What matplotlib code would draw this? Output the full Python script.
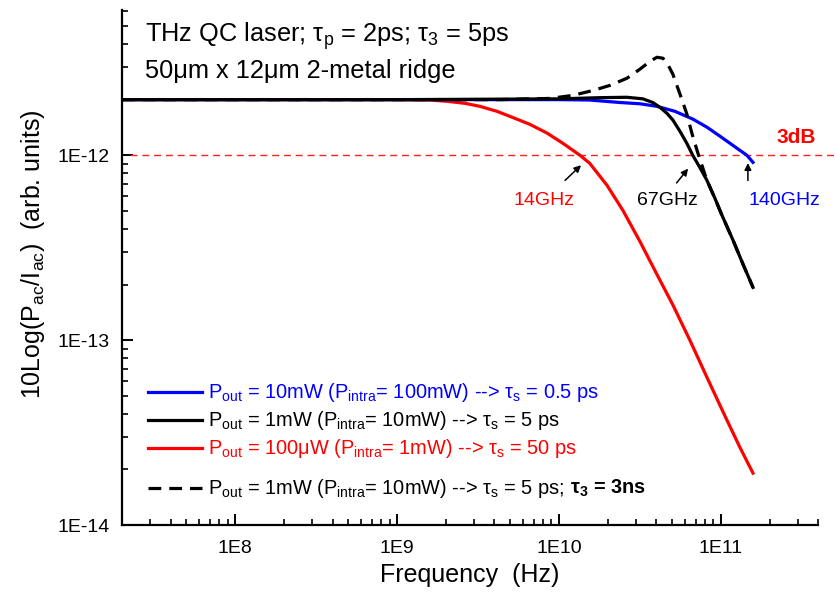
import numpy as np
import matplotlib
matplotlib.use("Agg")
import matplotlib.pyplot as plt
from matplotlib.lines import Line2D

plt.rcParams['font.family'] = ['Liberation Sans', 'DejaVu Sans']
plt.rcParams['mathtext.fontset'] = 'custom'
plt.rcParams['mathtext.rm'] = 'Liberation Sans'
plt.rcParams['mathtext.it'] = 'Liberation Sans:italic'
plt.rcParams['mathtext.bf'] = 'Liberation Sans:bold'

# values
f_red = [2e7, 1e8, 1.04e9, 1.6e9, 2.03e9, 2.63e9, 3.25e9, 4.14e9, 5.2e9, 6.62e9, 8.43e9, 1.06e10,
         1.35e10, 1.55e10, 1.98e10, 2.48e10, 3.16e10, 4.03e10, 5.06e10, 6.44e10, 8.2e10, 1.09e11,
         1.31e11, 1.58e11]
p_red = [2.0e-12, 2.0e-12, 2.0e-12, 1.99e-12, 1.96e-12, 1.91e-12, 1.84e-12, 1.73e-12, 1.60e-12, 1.47e-12,
         1.32e-12, 1.16e-12, 1.0e-12, 9.05e-13, 6.89e-13, 5.05e-13, 3.43e-13, 2.27e-13, 1.55e-13, 1.0e-13,
         6.31e-14, 3.7e-14, 2.64e-14, 1.91e-14]

f_blue = [2e7, 1e9, 1.01e10, 1.55e10, 2.38e10, 3.16e10, 4.03e10, 5.2e10, 6.71e10, 8.2e10,
          9.86e10, 1.19e11, 1.45e11, 1.58e11]
p_blue = [2.0e-12, 2.0e-12, 2.0e-12, 1.99e-12, 1.93e-12, 1.90e-12, 1.84e-12, 1.73e-12, 1.57e-12, 1.42e-12,
          1.27e-12, 1.13e-12, 1.0e-12, 9.16e-13]

f_black = [2e7, 1e9, 1.01e10, 1.79e10, 2.63e10, 3.3e10, 3.8e10, 4.2e10, 4.64e10, 5.06e10,
           5.59e10, 6.17e10, 6.71e10, 7.41e10, 8.2e10, 9.19e10, 1.01e11, 1.19e11, 1.37e11, 1.58e11]
p_black = [2.0e-12, 2.0e-12, 2.02e-12, 2.05e-12, 2.06e-12, 2.02e-12, 1.93e-12, 1.82e-12, 1.69e-12, 1.55e-12,
           1.35e-12, 1.16e-12, 1.0e-12, 8.61e-13, 7.33e-13, 5.86e-13, 4.8e-13, 3.47e-13, 2.58e-13, 1.93e-13]

f_dash = [2e7, 1e9, 4.33e9, 6.62e9, 8.8e9, 1.22e10, 1.62e10, 2.07e10, 2.63e10, 3.16e10,
          3.65e10, 4.03e10, 4.39e10, 4.71e10, 5.06e10, 5.35e10, 5.74e10, 6.17e10, 6.62e10, 7.21e10,
          8.2e10, 9.19e10, 1.01e11, 1.19e11, 1.37e11, 1.58e11]
p_dash = [2.0e-12, 2.0e-12, 2.0e-12, 2.02e-12, 2.03e-12, 2.11e-12, 2.24e-12, 2.39e-12, 2.61e-12, 2.92e-12,
          3.22e-12, 3.39e-12, 3.35e-12, 3.1e-12, 2.74e-12, 2.39e-12, 2.01e-12, 1.67e-12, 1.32e-12, 1.03e-12,
          7.33e-13, 5.86e-13, 4.8e-13, 3.47e-13, 2.58e-13, 1.93e-13]

level_3db = 1e-12
xticks = [1e8, 1e9, 1e10, 1e11]
xtick_labels = ['1E8', '1E9', '1E10', '1E11']
yticks = [1e-14, 1e-13, 1e-12]
ytick_labels = ['1E-14', '1E-13', '1E-12']

fig = plt.figure(figsize=(8.35, 5.94), dpi=100)
ax = fig.add_axes([0.146, 0.116, 0.834, 0.867])

ax.axhline(level_3db, xmin=0.012, xmax=1.03, color='#ff2020', lw=1.0, ls=(0, (5, 3.5)), clip_on=False)
ax.plot(f_red, p_red, color='red', lw=2.3)
ax.plot(f_blue, p_blue, color='blue', lw=2.3)
ax.plot(f_black, p_black, color='black', lw=2.3)
ax.plot(f_dash, p_dash, color='black', lw=2.3, ls=(0, (4, 2.5)))

ax.set_xscale('log')
ax.set_yscale('log')
ax.set_xlim(2e7, 4e11)
ax.set_ylim(1e-14, 6.1e-12)
ax.set_xticks(xticks)
ax.set_xticklabels(xtick_labels)
ax.set_yticks(yticks)
ax.set_yticklabels(ytick_labels)

for s in ['top', 'right']:
    ax.spines[s].set_visible(False)
for s in ['left', 'bottom']:
    ax.spines[s].set_linewidth(1.6)
ax.tick_params(which='major', direction='in', length=8, width=1.4, labelsize=14, pad=9)
ax.tick_params(which='minor', direction='in', length=4.5, width=1.2)
ax.tick_params(axis='x', which='major', pad=11)

ax.set_xlabel('Frequency  (Hz)', fontsize=18, labelpad=4)
ax.set_ylabel(r'10Log(P$_{\mathrm{ac}}$/I$_{\mathrm{ac}}$)  (arb. units)', fontsize=18)
ax.yaxis.set_label_coords(-0.108, 0.526)

fig.text(145 / 835, 1 - 42 / 594, r'THz QC laser; τ$_{\mathrm{p}}$ = 2ps; τ$_{\mathrm{3}}$ = 5ps',
         fontsize=18.3, va='baseline')
fig.text(145 / 835, 1 - 78 / 594, '50μm x 12μm 2-metal ridge', fontsize=18.3, va='baseline')

# 3dB annotations
ax.text(2.94e11, 1.25e-12, '3dB', color='red', fontsize=15, fontweight='bold', ha='center', va='center')
arrow = dict(arrowstyle='-|>', color='black', lw=1.1, mutation_scale=10)
ax.annotate('', xy=(1.41e10, 9.05e-13), xytext=(1.06e10, 7.14e-13), arrowprops=arrow)
ax.annotate('', xy=(6.44e10, 8.7e-13), xytext=(5.2e10, 6.9e-13), arrowprops=arrow)
ax.annotate('', xy=(1.47e11, 9.4e-13), xytext=(1.47e11, 7.06e-13), arrowprops=arrow)
ax.text(8.07e9, 5.72e-13, '14GHz', color='red', fontsize=14, ha='center', va='center')
ax.text(4.71e10, 5.72e-13, '67GHz', color='black', fontsize=14, ha='center', va='center')
ax.text(2.48e11, 5.72e-13, '140GHz', color='blue', fontsize=14, ha='center', va='center')

# hand-placed legend
entries = [
    ('blue', '-', r'P$_{\mathrm{out}}$ = 10mW (P$_{\mathrm{intra}}$= 100mW) --> τ$_{\mathrm{s}}$ = 0.5 ps', 392),
    ('black', '-', r'P$_{\mathrm{out}}$ = 1mW (P$_{\mathrm{intra}}$= 10mW) --> τ$_{\mathrm{s}}$ = 5 ps', 420),
    ('red', '-', r'P$_{\mathrm{out}}$ = 100μW (P$_{\mathrm{intra}}$= 1mW) --> τ$_{\mathrm{s}}$ = 50 ps', 448),
    ('black', (0, (4, 2.5)), r'P$_{\mathrm{out}}$ = 1mW (P$_{\mathrm{intra}}$= 10mW) --> τ$_{\mathrm{s}}$ = 5 ps; ', 488),
]
last = None
for color, ls, label, ypix in entries:
    yf = 1 - ypix / 594
    fig.add_artist(Line2D([148 / 835, 202 / 835], [yf, yf], color=color, lw=2.3, ls=ls))
    last = fig.text(208 / 835, yf, label, color=color, fontsize=14.4, va='center')

renderer = fig.canvas.get_renderer()
bb = last.get_window_extent(renderer=renderer).transformed(fig.transFigure.inverted())
fig.text(bb.x1 + 4 / 835, 1 - 488 / 594, r'τ$_{\mathbf{3}}$ = 3ns', color='black', fontsize=14.4,
         fontweight='bold', va='center')

fig.savefig('out.png', dpi=100)
